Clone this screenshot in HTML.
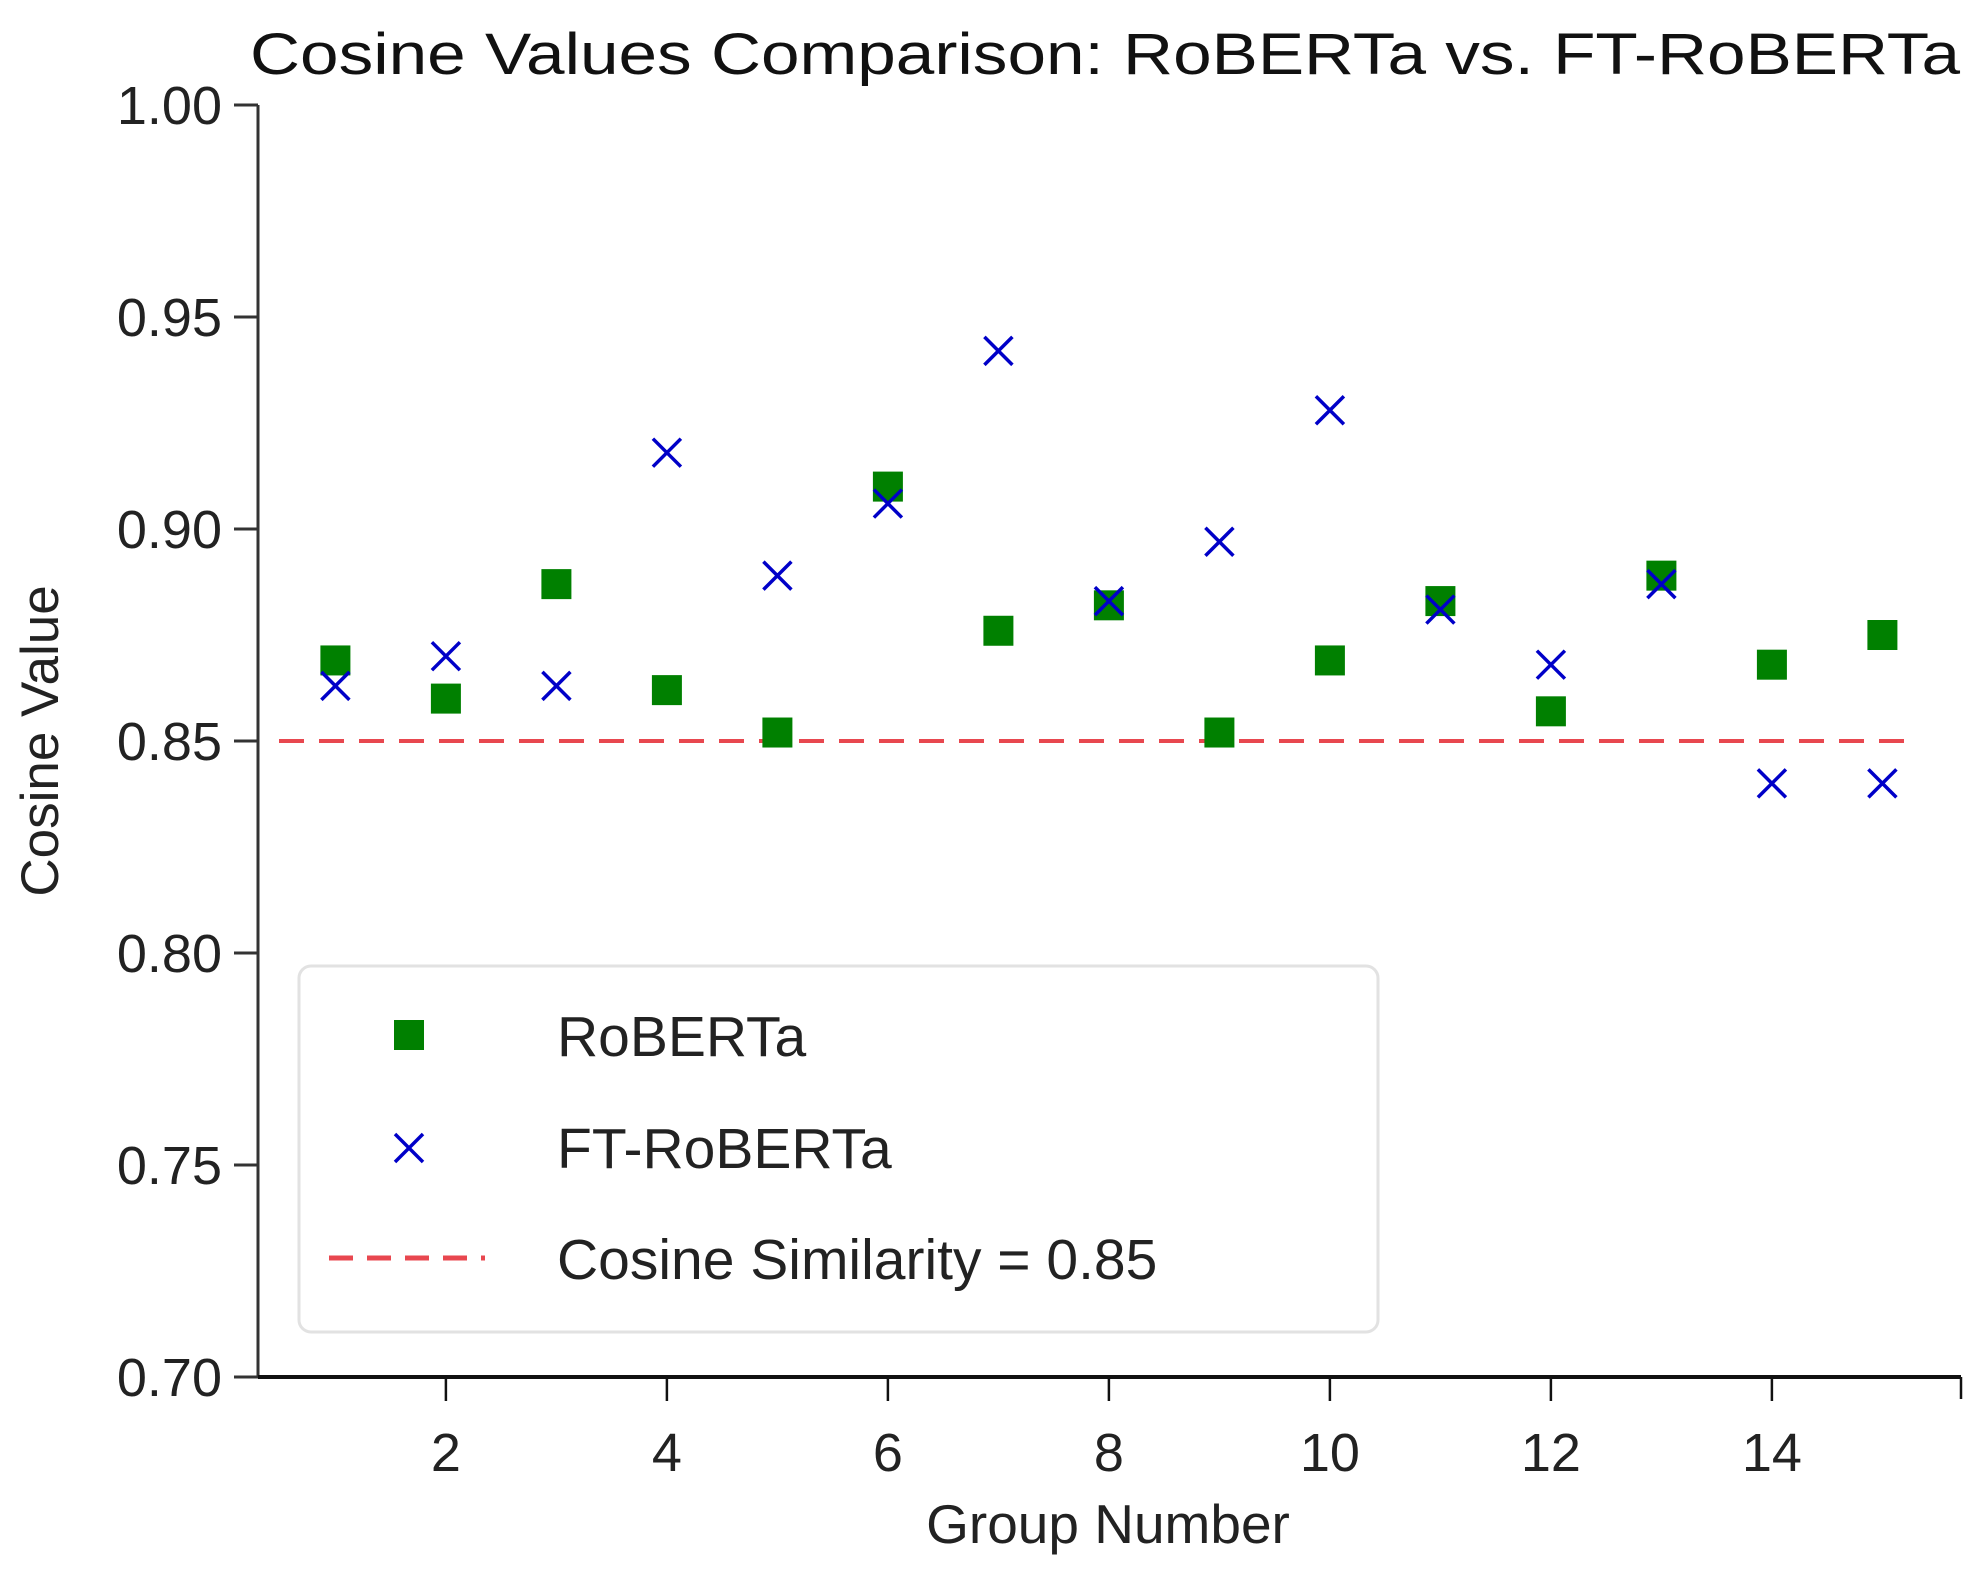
<!DOCTYPE html>
<html><head><meta charset="utf-8"><style>
html,body{margin:0;padding:0;background:#fff;}
svg{display:block;font-family:"Liberation Sans",Arial,sans-serif;}
</style></head><body>
<svg id="chart" width="1986" height="1571" viewBox="0 0 1986 1571" xmlns="http://www.w3.org/2000/svg">
<text x="1105" y="74" font-size="58" text-anchor="middle" textLength="1710" lengthAdjust="spacingAndGlyphs" fill="#111">Cosine Values Comparison: RoBERTa vs. FT-RoBERTa</text>
<g id="axes"></g>
<g id="marks"></g>
<g id="legend">
<rect x="299" y="966" width="1079" height="366" rx="12" fill="#fff" stroke="#e2e2e2" stroke-width="3"/>
<rect x="394" y="1020" width="30" height="30" fill="#008000"/>
<text x="557" y="1056" font-size="57" fill="#222">RoBERTa</text>
<path d="M395 1134 L423 1162 M423 1134 L395 1162" stroke="#0000c8" stroke-width="3.5"/>
<text x="557" y="1168" font-size="57" fill="#222">FT-RoBERTa</text>
<line x1="329" y1="1258" x2="485" y2="1258" stroke="#e8474f" stroke-width="5" stroke-dasharray="24 14"/>
<text x="557" y="1279" font-size="57" fill="#222">Cosine Similarity = 0.85</text>
</g>
</svg>
<script>
const groups = [1,2,3,4,5,6,7,8,9,10,11,12,13,14,15];
const robertaValues = [0.869,0.860,0.887,0.862,0.852,0.910,0.876,0.882,0.852,0.869,0.883,0.857,0.889,0.868,0.875];
const ftRobertaValues = [0.863,0.870,0.863,0.918,0.889,0.906,0.942,0.883,0.897,0.928,0.881,0.868,0.887,0.840,0.840];
const yTicks = [0.70,0.75,0.80,0.85,0.90,0.95,1.00];
const xTicks = [2,4,6,8,10,12,14];
const threshold = 0.85;

const NS = "http://www.w3.org/2000/svg";
const plotL = 258, plotR = 1961, plotT = 105, plotB = 1377;
function xs(g){ return 445.9 + (g - 2) * 110.5; }
function ys(v){ return plotB - (v - 0.70) / 0.30 * (plotB - plotT); }
function mk(tag, attrs, parent){ const e = document.createElementNS(NS, tag); for (const k in attrs) e.setAttribute(k, attrs[k]); parent.appendChild(e); return e; }

const axesG = document.getElementById('axes');
const marksG = document.getElementById('marks');

let e = mk('line', {x1:plotL, y1:plotT, x2:plotL, y2:plotB, stroke:'#333', 'stroke-width':3}, axesG);


e = mk('line', {x1:plotL, y1:plotB, x2:plotR, y2:plotB, stroke:'#111', 'stroke-width':4}, axesG);


e = mk('line', {x1:plotR, y1:plotB, x2:plotR, y2:plotB+22, stroke:'#111', 'stroke-width':2.5}, axesG);



yTicks.forEach(v => {
  const y = ys(v);
  let t = mk('line', {x1:plotL-24, y1:y, x2:plotL, y2:y, stroke:'#333', 'stroke-width':3}, axesG);
  
  
  let l = mk('text', {x:222, y:y+19, 'font-size':54, 'text-anchor':'end', fill:'#222'}, axesG);
  
  
  l.textContent = v.toFixed(2);
});
xTicks.forEach(g => {
  const x = xs(g);
  let t = mk('line', {x1:x, y1:plotB, x2:x, y2:plotB+24, stroke:'#111', 'stroke-width':2.5}, axesG);
  
  
  let l = mk('text', {x:x, y:1471, 'font-size':54, 'text-anchor':'middle', fill:'#222'}, axesG);
  
  
  l.textContent = g;
});
let xt = mk('text', {x:1108, y:1543, 'font-size':55, 'text-anchor':'middle', fill:'#222'}, axesG);


xt.textContent = 'Group Number';
let yt = mk('text', {x:0, y:0, 'font-size':53, 'text-anchor':'middle', fill:'#222', transform:'translate(58,741) rotate(-90)'}, axesG);


yt.textContent = 'Cosine Value';

let th = mk('line', {x1:279, y1:ys(threshold), x2:1905, y2:ys(threshold), stroke:'#e8474f', 'stroke-width':4, 'stroke-dasharray':'25 15'}, marksG);



groups.forEach((g, i) => {
  const x = xs(g), y = ys(robertaValues[i]);
  let r = mk('rect', {x:x-15, y:y-15, width:30, height:30, fill:'#008000'}, marksG);
  
  
});
groups.forEach((g, i) => {
  const x = xs(g), y = ys(ftRobertaValues[i]), s = 14;
  let p = mk('path', {d:`M${x-s} ${y-s} L${x+s} ${y+s} M${x+s} ${y-s} L${x-s} ${y+s}`, stroke:'#0000c8', 'stroke-width':3.5, fill:'none'}, marksG);
  
  
});
</script>
</body></html>
